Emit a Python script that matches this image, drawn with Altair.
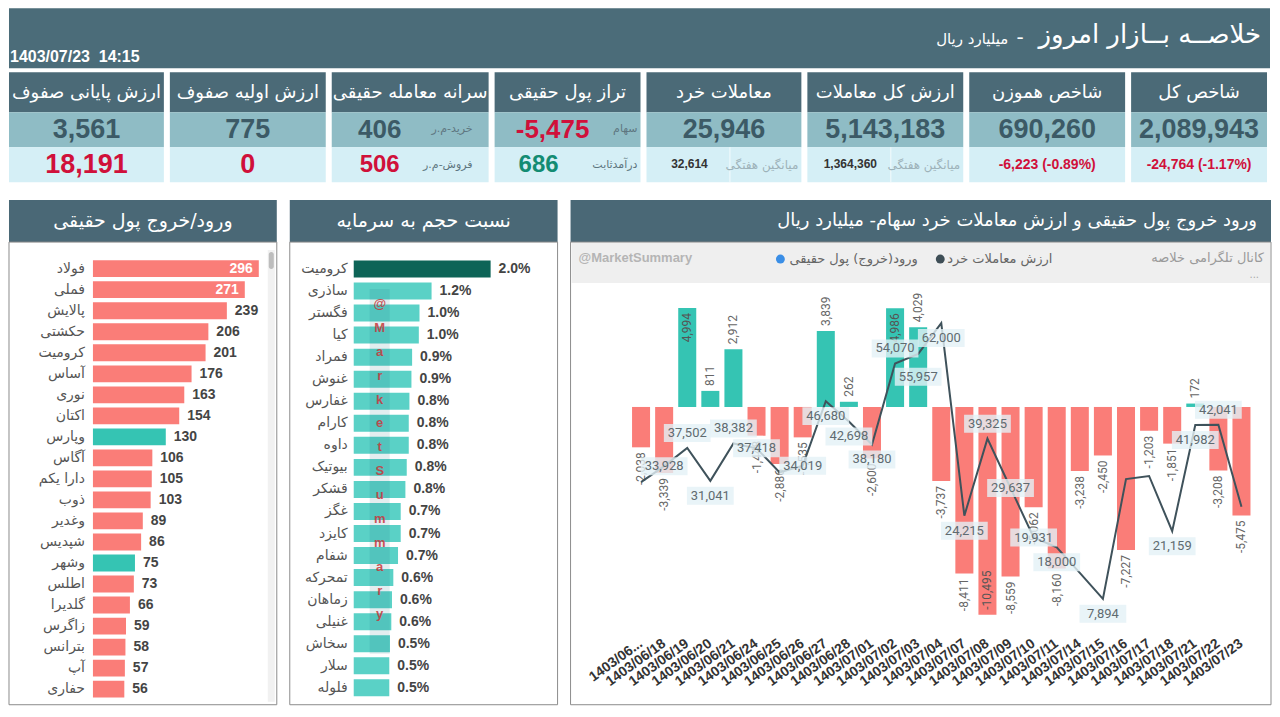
import altair as alt
import pandas as pd

# ---------------- data ----------------
header_title = "خلاصــه بــازار امروز"
header_unit = "میلیارد ریال"
header_time = "1403/07/23\u00a0\u00a014:15"

kpi_titles = ["ارزش پایانی صفوف", "ارزش اولیه صفوف", "سرانه معامله حقیقی", "تراز پول حقیقی",
              "معاملات خرد", "ارزش کل معاملات", "شاخص هموزن", "شاخص کل"]
kpi_main = [3561, 775, 406, -5475, 25946, 5143183, 690260, 2089943]
kpi_main_caption = ["", "", "خرید-م.ر", "سهام", "", "", "", ""]
kpi_sub = [18191, 0, 506, 686, 32614, 1364360, -6223, -24764]
kpi_sub_pct = [None, None, None, None, None, None, -0.89, -1.17]
kpi_sub_caption = ["", "", "فروش-م.ر", "درآمدثابت", "میانگین هفتگی", "میانگین هفتگی", "", ""]

flow_title = "ورود/خروج پول حقیقی"
flow_names = ["فولاد", "فملی", "پالایش", "حکشتی", "کرومیت", "آساس", "نوری", "اکتان", "وپارس",
              "آگاس", "دارا یکم", "ذوب", "وغدیر", "شپدیس", "وشهر", "اطلس", "گلدیرا", "زاگرس",
              "بترانس", "آپ", "حفاری"]
flow_values = [296, 271, 239, 206, 201, 176, 163, 154, 130, 106, 105, 103, 89, 86, 75, 73, 66,
               59, 58, 57, 56]
flow_marked = ["وپارس", "وشهر"]

ratio_title = "نسبت حجم به سرمایه"
ratio_names = ["کرومیت", "ساذری", "فگستر", "کیا", "فمراد", "غنوش", "غفارس", "کارام", "داوه",
               "بیوتیک", "قشکر", "غگز", "کایزد", "شفام", "تمحرکه", "زماهان", "غنیلی", "سخاش",
               "سلار", "فلوله"]
ratio_values = [2.04, 1.16, 0.98, 0.97, 0.87, 0.86, 0.83, 0.82, 0.82, 0.79, 0.77, 0.70, 0.70,
                0.66, 0.59, 0.57, 0.56, 0.54, 0.53, 0.53]
ratio_top = "کرومیت"

trend_title = "ورود خروج پول حقیقی و ارزش معاملات خرد سهام- میلیارد ریال"
trend_dates = ["1403/06/17", "1403/06/18", "1403/06/19", "1403/06/20", "1403/06/21", "1403/06/24",
               "1403/06/25", "1403/06/26", "1403/06/27", "1403/06/28", "1403/07/01", "1403/07/02",
               "1403/07/03", "1403/07/04", "1403/07/07", "1403/07/08", "1403/07/09", "1403/07/10",
               "1403/07/11", "1403/07/14", "1403/07/15", "1403/07/16", "1403/07/17", "1403/07/18",
               "1403/07/21", "1403/07/22", "1403/07/23"]
trend_flow = [-2038, -3339, 4994, 811, 2912, -1448, -2886, -1535, 3839, 262, -2600, 4986, 4029,
              -3737, -8411, -10495, -8559, -5062, -8160, -3238, -2450, -7227, -1203, -1851, 172,
              -3208, -5475]
trend_retail = [30800, 33928, 37502, 31041, 38382, 37418, 32700, 34019, 46680, 42698, 38180,
                54070, 55957, 62000, 24215, 39325, 29637, 19931, 18000, 13000, 7894, 31400,
                32000, 21159, 41982, 42041, 25946]
trend_unlabeled = ["1403/06/17", "1403/06/25", "1403/07/14", "1403/07/16", "1403/07/17",
                   "1403/07/23"]
legend_items = ["ورود(خروج) پول حقیقی", "ارزش معاملات خرد"]
watermark = "@MarketSummary"
channel_note = "کانال تلگرامی خلاصه"

# ---------------- layout / styles ----------------
labels_above = ["1403/06/19", "1403/06/21", "1403/07/02", "1403/07/08", "1403/07/22"]
labels_center = ["1403/06/18", "1403/06/24", "1403/06/26", "1403/07/09", "1403/07/10"]
labels_far = ["1403/07/03"]
FA = "DejaVu Sans"
NUM = "Liberation Sans"
COND = "Roboto"
HEADER_BG = "#4B6C79"
TITLE_BG = "#4A6876"
CARD_HEAD = "#4B6A77"
CARD_MID = "#8FBCC5"
CARD_LOW = "#D5EFF6"
DARK_VAL = "#3C5A66"
RED = "#D0103A"
GREEN = "#138C73"
SALMON = "#FA7D78"
TEAL = "#35C4B3"
DARK_TEAL = "#0D6457"
LIGHT_TEAL = "#5AD1C6"
LINE = "#3F525B"
BORDER = "#8C8C8C"
sub_colors = [RED, RED, RED, GREEN, "#333333", "#333333", RED, RED]

one = pd.DataFrame({"k": [0]})


def box(x, x2, y, y2, fill, **kw):
    return alt.Chart(one).mark_rect(fill=fill, **kw).encode(
        x=alt.value(x), x2=alt.value(x2), y=alt.value(y), y2=alt.value(y2))


def txt(s, x, y, size, color, font=FA, weight="normal", align="center", baseline="middle", **kw):
    return alt.Chart(one).mark_text(text=s, fontSize=size, color=color, font=font,
                                    fontWeight=weight, align=align, baseline=baseline,
                                    **kw).encode(x=alt.value(x), y=alt.value(y))


# ---------------- header ----------------
HW = 1262
header = alt.layer(
    box(0, HW, 0, 60, HEADER_BG),
    txt(header_title, 1253, 27, 26, "white", align="right"),
    txt("-", 1012, 30, 20, "white"),
    txt(header_unit, 1000, 31, 15, "white", align="right"),
    txt(header_time, 1, 49, 16, "white", font=NUM, weight="bold", align="left"),
).properties(width=HW, height=60)

# ---------------- KPI cards ----------------
card_widths = [155, 156, 157, 146, 155, 156, 156, 136]
cards = []
for i, w in enumerate(card_widths):
    L = [box(0, w, 0, 40, CARD_HEAD), box(0, w, 40, 75, CARD_MID), box(0, w, 75, 110, CARD_LOW),
         txt(kpi_titles[i], w / 2, 21, 18, "white")]
    main_color = RED if kpi_main[i] < 0 else DARK_VAL
    if kpi_main_caption[i]:
        mx = 48 if i == 2 else 58
        L.append(txt(f"{kpi_main[i]:,}", mx, 58, 26, main_color, NUM, "bold"))
        L.append(txt(kpi_main_caption[i], w - (16 if i == 2 else 3), 57, 11, "#5E7680",
                     align="right"))
    else:
        L.append(txt(f"{kpi_main[i]:,}", w / 2, 58, 27, main_color, NUM, "bold"))
    s = kpi_sub[i]
    if kpi_sub_pct[i] is not None:
        L.append(txt(f"{s:,} ({kpi_sub_pct[i]:.2f}%)", w / 2, 93, 14, sub_colors[i], NUM, "bold"))
    elif i in (4, 5):
        L.append(box(83, 84, 75, 110, "#F4FBFD"))
        L.append(txt(f"{s:,}", 43, 92, 12, sub_colors[i], NUM, "bold"))
        L.append(txt(kpi_sub_caption[i], w - 3, 93, 12, "#9DB2B9", align="right"))
    elif kpi_sub_caption[i]:
        sx = 48 if i == 2 else 44
        L.append(txt(f"{s:,}", sx, 93, 24, sub_colors[i], NUM, "bold"))
        L.append(txt(kpi_sub_caption[i], w - (16 if i == 2 else 3), 93, 11, "#5E7680",
                     align="right"))
    else:
        L.append(txt(f"{s:,}", w / 2, 93, 27, sub_colors[i], NUM, "bold"))
    cards.append(alt.layer(*L).properties(width=w, height=110))
kpi_row = alt.hconcat(*cards, spacing=6)

# ---------------- left panel: real money flow ----------------
LW, LH = 268, 446
fdf = pd.DataFrame({"name": flow_names, "v": flow_values})
fsc = alt.Scale(domain=[-149.8, 328.1], nice=False, zero=False)
FY = alt.Y("name:N", sort=flow_names, scale=alt.Scale(paddingInner=0.2, paddingOuter=0.2),
           axis=None)
fbars = alt.Chart(fdf).mark_bar().encode(
    x=alt.X("v:Q", scale=fsc, axis=None), y=FY,
    color=alt.condition(alt.FieldOneOfPredicate(field="name", oneOf=flow_marked),
                        alt.value(TEAL), alt.value(SALMON)))
fnames = alt.Chart(fdf).transform_calculate(zero="0").mark_text(
    align="right", dx=-8, font=FA, fontSize=14, color="#555555").encode(
    x=alt.X("zero:Q", scale=fsc, axis=None), y=FY, text="name:N")
fout = alt.Chart(fdf).transform_filter("datum.v < 250").mark_text(
    align="left", dx=8, font=NUM, fontSize=14, fontWeight="bold", color="#444444").encode(
    x=alt.X("v:Q", scale=fsc, axis=None), y=FY, text="v:Q")
fin = alt.Chart(fdf).transform_filter("datum.v >= 250").mark_text(
    align="right", dx=-6, font=NUM, fontSize=14, fontWeight="bold", color="white").encode(
    x=alt.X("v:Q", scale=fsc, axis=None), y=FY, text="v:Q")
left = alt.layer(
    box(0, LW, -70, -56, "white"),
    box(0, LW, -56, -14, TITLE_BG),
    txt(flow_title, LW / 2, -35, 19, "white"),
    box(0, LW, -14, 449, "white", stroke=BORDER, strokeWidth=1),
    box(259, 266, -6, 446, "#F1F1F1"),
    box(260, 265, -4, 13, "#BDBDBD", cornerRadius=2.5),
    fbars, fnames, fout, fin,
).properties(width=LW, height=LH)

# ---------------- middle panel: volume / capital ----------------
MW, MH = 268, 445
rdf = pd.DataFrame({"name": ratio_names, "v": ratio_values})
rsc = alt.Scale(domain=[-0.953, 3.0375], nice=False, zero=False)
RY = alt.Y("name:N", sort=ratio_names, scale=alt.Scale(paddingInner=0.23, paddingOuter=0.2),
           axis=None)
rbars = alt.Chart(rdf).mark_bar().encode(
    x=alt.X("v:Q", scale=rsc, axis=None), y=RY,
    color=alt.condition(alt.datum.name == ratio_top, alt.value(DARK_TEAL), alt.value(LIGHT_TEAL)))
rnames = alt.Chart(rdf).transform_calculate(zero="0").mark_text(
    align="right", dx=-6, font=FA, fontSize=14, color="#555555").encode(
    x=alt.X("zero:Q", scale=rsc, axis=None), y=RY, text="name:N")
rvals = alt.Chart(rdf).transform_calculate(lbl="format(datum.v, '.1f') + '%'").mark_text(
    align="left", dx=8, font=NUM, fontSize=14, fontWeight="bold", color="#444444").encode(
    x=alt.X("v:Q", scale=rsc, axis=None), y=RY, text="lbl:N")
mid = alt.layer(
    box(0, MW, -70, -56, "white"),
    box(0, MW, -56, -14, TITLE_BG),
    txt(ratio_title, MW / 2, -35, 19, "white"),
    box(0, MW, -14, 449, "white", stroke=BORDER, strokeWidth=1),
    rbars, rnames, rvals,
    box(80, 100, 33, 398, "#1B6F78", opacity=0.12),
    txt(list(watermark), 90, 42, 13, "#C8383C", font=NUM, weight="bold", baseline="top",
        lineHeight=23.9, opacity=0.85),
).properties(width=MW, height=MH)

# ---------------- right panel: trend ----------------
RW, RH = 624, 364
tdf = pd.DataFrame({"date": trend_dates, "flow": trend_flow, "retail": trend_retail})
tdf["show"] = ~tdf["date"].isin(trend_unlabeled)
tdf["pos"] = "below"
tdf.loc[tdf["date"].isin(labels_above), "pos"] = "above"
tdf.loc[tdf["date"].isin(labels_center), "pos"] = "center"
tdf.loc[tdf["date"].isin(labels_far), "pos"] = "far"
X = alt.X("date:N", sort=trend_dates, title=None,
          scale=alt.Scale(paddingInner=0.22, paddingOuter=0.11),
          axis=alt.Axis(labelAngle=324, labelAlign="right", labelBaseline="middle",
                        labelFont=NUM, labelFontWeight="bold", labelFontSize=14,
                        labelColor="#333333", ticks=False, domain=False, grid=False,
                        labelPadding=22, labelOverlap=False, zindex=1,
                        labelExpr="datum.value == '1403/06/17' ? '1403/06...' : datum.label"))
YF = alt.Y("flow:Q", scale=alt.Scale(domain=[-10746, 7618], nice=False, zero=False), axis=None)
YR = alt.Y("retail:Q", scale=alt.Scale(domain=[3790, 75134], nice=False, zero=False), axis=None)
flow_lbl = "replace(format(datum.flow, ','), '\u2212', '-')"


def bar_label(cond, align, off, color="#666666"):
    return alt.Chart(tdf).transform_filter(cond).transform_calculate(lbl=flow_lbl).mark_text(
        angle=270, align=align, baseline="middle", yOffset=off, font=COND, fontSize=12,
        color=color).encode(x=X, y=YF, text="lbl:N")


tbars = alt.Chart(tdf).mark_bar().encode(
    x=X, y=YF, color=alt.condition("datum.flow > 0", alt.value(TEAL), alt.value(SALMON)))
bar_labels = [
    bar_label("datum.flow > 0 && datum.flow < 4500", "left", -5),
    bar_label("datum.flow >= 4500", "right", 5, "#555555"),
    bar_label("datum.flow < 0 && datum.flow > -9000", "right", 5),
    bar_label("datum.flow <= -9000", "left", -5, "#555555"),
]
tline = alt.Chart(tdf).mark_line(color=LINE, strokeWidth=2).encode(x=X, y=YR)


def line_labels(pos, off):
    cond = f"datum.show && datum.pos == '{pos}'"
    bx = alt.Chart(tdf).transform_filter(cond).mark_point(
        shape="M-1.3,-0.5H1.3V0.5H-1.3Z", filled=True, fill="#E4F1F6", opacity=0.8,
        strokeWidth=0, size=1296, yOffset=off).encode(x=X, y=YR)
    tx = alt.Chart(tdf).transform_filter(cond).mark_text(
        yOffset=off, font=COND, fontSize=13, color="#5F6B70").encode(
        x=X, y=YR, text=alt.Text("retail:Q", format=","))
    return [bx, tx]


lbl_layers = (line_labels("below", 15) + line_labels("above", -15)
              + line_labels("center", 0) + line_labels("far", 23))

right = alt.layer(
    box(-59, 642, -70, -56, "white"),
    box(-59, 642, -56, -14, TITLE_BG),
    txt(trend_title, 628, -35, 18, "white", align="right"),
    box(-59, 642, -14, 449, "white", stroke=BORDER, strokeWidth=1),
    box(-58, 641, -13, 27, "#EFEFEF"),
    txt(watermark, -51, 2, 13, "#B5B5B5", font=NUM, weight="bold", align="left"),
    alt.Chart(one).mark_circle(size=80, color="#3A8EE6", opacity=1).encode(
        x=alt.value(151), y=alt.value(3)),
    txt(legend_items[0], 160, 3, 13, "#666666", align="left"),
    alt.Chart(one).mark_circle(size=80, color="#3E4E56", opacity=1).encode(
        x=alt.value(311), y=alt.value(3)),
    txt(legend_items[1], 318, 3, 13, "#666666", align="left"),
    txt(channel_note, 635, 2, 13, "#9A9A9A", align="right"),
    txt("...", 630, 19, 10, "#AAAAAA", align="right"),
    tbars, *bar_labels, tline, *lbl_layers,
).resolve_scale(y="independent").properties(width=RW, height=RH)

bottom_row = alt.hconcat(left, mid, right, spacing=11)

chart = alt.vconcat(header, kpi_row, bottom_row, spacing=4).configure_view(
    strokeWidth=0).properties(padding=0, background="white")

chart.save("out.html", embed_options={"renderer": "svg", "actions": False})
